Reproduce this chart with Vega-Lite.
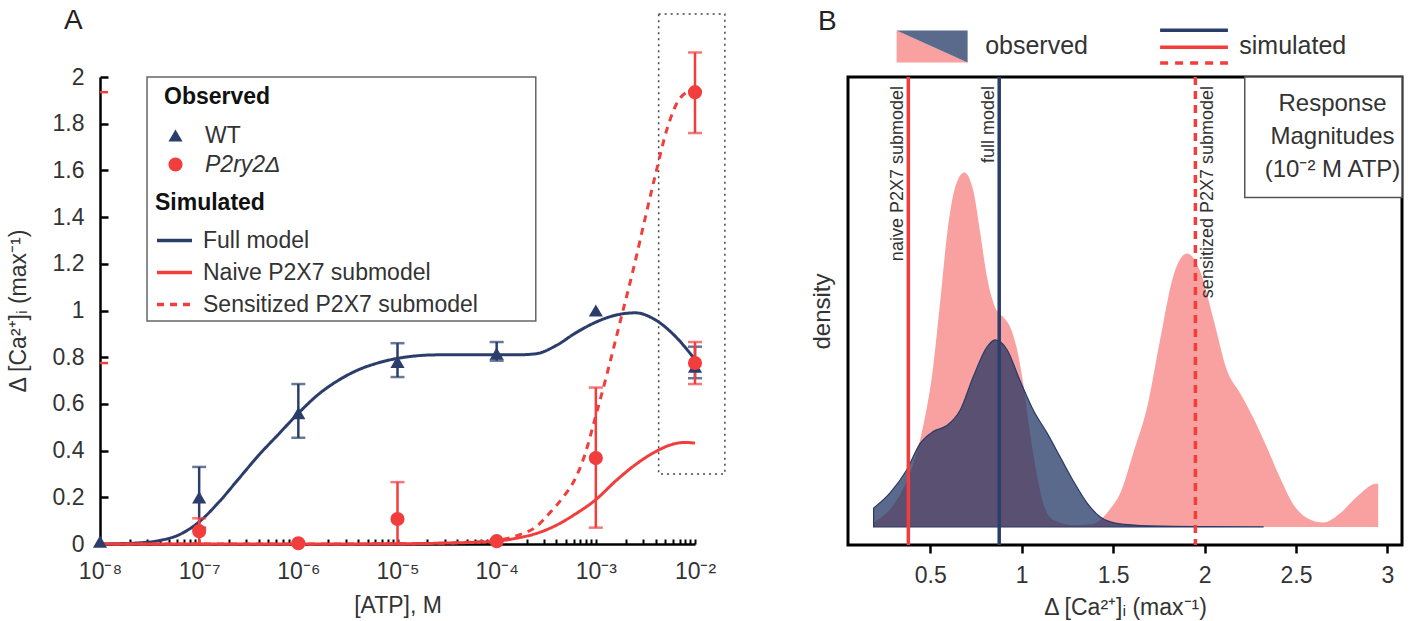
{
  "$schema": "https://vega.github.io/schema/vega-lite/v6.json",
  "background": "white",
  "padding": {"left": 7, "top": 6, "right": 0, "bottom": 2},
  "bounds": "flush",
  "spacing": 153,
  "resolve": {"scale": {"stroke": "independent", "strokeDash": "independent", "color": "independent", "fill": "independent", "shape": "independent"}},
  "config": {
    "font": "Liberation Sans",
    "axis": {"labelFontSize": 23, "titleFontSize": 23, "labelColor": "#333", "titleColor": "#333", "titleFontWeight": "normal", "domainColor": "black", "tickColor": "black", "domainWidth": 2.5, "tickWidth": 2.5, "grid": false},
    "legend": {"padding": 0, "titleFontSize": 23, "titleFontWeight": "bold", "titleColor": "#111", "labelFontSize": 23, "labelColor": "#333", "labelLimit": 500},
    "title": {"fontSize": 28, "fontWeight": "normal", "anchor": "start", "color": "#222", "frame": "group"}
  },
  "datasets": {
    "obs": [
      {"x": 1e-8, "y": 0.01, "g": "WT"},
      {"x": 1e-7, "y": 0.2, "g": "WT"},
      {"x": 1e-6, "y": 0.56, "g": "WT"},
      {"x": 1e-5, "y": 0.78, "g": "WT"},
      {"x": 1e-4, "y": 0.815, "g": "WT"},
      {"x": 1e-3, "y": 1.0, "g": "WT"},
      {"x": 1e-2, "y": 0.76, "g": "WT"},
      {"x": 1e-7, "y": 0.055, "g": "P2ry2Δ"},
      {"x": 1e-6, "y": 0.003, "g": "P2ry2Δ"},
      {"x": 1e-5, "y": 0.107, "g": "P2ry2Δ"},
      {"x": 1e-4, "y": 0.012, "g": "P2ry2Δ"},
      {"x": 1e-3, "y": 0.368, "g": "P2ry2Δ"},
      {"x": 1e-2, "y": 1.935, "g": "P2ry2Δ"},
      {"x": 1e-2, "y": 0.775, "g": "P2ry2Δ"}
    ],
    "errWT": [
      {"x": 1e-7, "lo": 0.07, "hi": 0.33},
      {"x": 1e-6, "lo": 0.455, "hi": 0.685},
      {"x": 1e-5, "lo": 0.715, "hi": 0.86},
      {"x": 1e-4, "lo": 0.785, "hi": 0.865},
      {"x": 1e-2, "lo": 0.71, "hi": 0.845}
    ],
    "errP2": [
      {"x": 1e-7, "lo": 0.0, "hi": 0.11},
      {"x": 1e-5, "lo": 0.0, "hi": 0.265},
      {"x": 1e-3, "lo": 0.07, "hi": 0.67},
      {"x": 1e-2, "lo": 1.76, "hi": 2.105},
      {"x": 1e-2, "lo": 0.685, "hi": 0.865}
    ],
    "sim": [
      {"x": 1e-8, "y": 0, "model": "Full model"},
      {"x": 2.512e-8, "y": 0.005, "model": "Full model"},
      {"x": 3.981e-8, "y": 0.015, "model": "Full model"},
      {"x": 6.31e-8, "y": 0.04, "model": "Full model"},
      {"x": 1e-7, "y": 0.095, "model": "Full model"},
      {"x": 1.585e-7, "y": 0.18, "model": "Full model"},
      {"x": 2.512e-7, "y": 0.28, "model": "Full model"},
      {"x": 3.981e-7, "y": 0.38, "model": "Full model"},
      {"x": 6.31e-7, "y": 0.47, "model": "Full model"},
      {"x": 1e-6, "y": 0.56, "model": "Full model"},
      {"x": 1.585e-6, "y": 0.64, "model": "Full model"},
      {"x": 2.512e-6, "y": 0.7, "model": "Full model"},
      {"x": 3.981e-6, "y": 0.745, "model": "Full model"},
      {"x": 6.31e-6, "y": 0.775, "model": "Full model"},
      {"x": 1e-5, "y": 0.795, "model": "Full model"},
      {"x": 2.512e-5, "y": 0.81, "model": "Full model"},
      {"x": 6.31e-5, "y": 0.81, "model": "Full model"},
      {"x": 1.585e-4, "y": 0.81, "model": "Full model"},
      {"x": 2.512e-4, "y": 0.815, "model": "Full model"},
      {"x": 3.981e-4, "y": 0.85, "model": "Full model"},
      {"x": 6.31e-4, "y": 0.905, "model": "Full model"},
      {"x": 1e-3, "y": 0.95, "model": "Full model"},
      {"x": 1.585e-3, "y": 0.98, "model": "Full model"},
      {"x": 2.512e-3, "y": 0.99, "model": "Full model"},
      {"x": 3.981e-3, "y": 0.96, "model": "Full model"},
      {"x": 6.31e-3, "y": 0.89, "model": "Full model"},
      {"x": 1e-2, "y": 0.79, "model": "Full model"},
      {"x": 1e-8, "y": 0, "model": "Naive P2X7 submodel"},
      {"x": 1e-6, "y": 0, "model": "Naive P2X7 submodel"},
      {"x": 1e-5, "y": 0.001, "model": "Naive P2X7 submodel"},
      {"x": 3.162e-5, "y": 0.004, "model": "Naive P2X7 submodel"},
      {"x": 1e-4, "y": 0.012, "model": "Naive P2X7 submodel"},
      {"x": 1.585e-4, "y": 0.025, "model": "Naive P2X7 submodel"},
      {"x": 2.512e-4, "y": 0.045, "model": "Naive P2X7 submodel"},
      {"x": 3.981e-4, "y": 0.08, "model": "Naive P2X7 submodel"},
      {"x": 6.31e-4, "y": 0.13, "model": "Naive P2X7 submodel"},
      {"x": 1e-3, "y": 0.19, "model": "Naive P2X7 submodel"},
      {"x": 1.585e-3, "y": 0.27, "model": "Naive P2X7 submodel"},
      {"x": 2.512e-3, "y": 0.34, "model": "Naive P2X7 submodel"},
      {"x": 3.981e-3, "y": 0.395, "model": "Naive P2X7 submodel"},
      {"x": 6.31e-3, "y": 0.43, "model": "Naive P2X7 submodel"},
      {"x": 7.943e-3, "y": 0.435, "model": "Naive P2X7 submodel"},
      {"x": 1e-2, "y": 0.432, "model": "Naive P2X7 submodel"},
      {"x": 1e-8, "y": 0, "model": "Sensitized P2X7 submodel"},
      {"x": 1e-6, "y": 0, "model": "Sensitized P2X7 submodel"},
      {"x": 1e-5, "y": 0.001, "model": "Sensitized P2X7 submodel"},
      {"x": 3.162e-5, "y": 0.004, "model": "Sensitized P2X7 submodel"},
      {"x": 1e-4, "y": 0.015, "model": "Sensitized P2X7 submodel"},
      {"x": 1.585e-4, "y": 0.035, "model": "Sensitized P2X7 submodel"},
      {"x": 2.512e-4, "y": 0.075, "model": "Sensitized P2X7 submodel"},
      {"x": 3.548e-4, "y": 0.14, "model": "Sensitized P2X7 submodel"},
      {"x": 4.677e-4, "y": 0.2, "model": "Sensitized P2X7 submodel"},
      {"x": 6.026e-4, "y": 0.27, "model": "Sensitized P2X7 submodel"},
      {"x": 7.586e-4, "y": 0.37, "model": "Sensitized P2X7 submodel"},
      {"x": 1e-3, "y": 0.55, "model": "Sensitized P2X7 submodel"},
      {"x": 1.318e-3, "y": 0.74, "model": "Sensitized P2X7 submodel"},
      {"x": 1.778e-3, "y": 0.96, "model": "Sensitized P2X7 submodel"},
      {"x": 2.399e-3, "y": 1.18, "model": "Sensitized P2X7 submodel"},
      {"x": 3.162e-3, "y": 1.4, "model": "Sensitized P2X7 submodel"},
      {"x": 3.981e-3, "y": 1.58, "model": "Sensitized P2X7 submodel"},
      {"x": 5.248e-3, "y": 1.78, "model": "Sensitized P2X7 submodel"},
      {"x": 7.079e-3, "y": 1.91, "model": "Sensitized P2X7 submodel"},
      {"x": 1e-2, "y": 1.95, "model": "Sensitized P2X7 submodel"}
    ],
    "axisMarks": [{"y": 1.935}, {"y": 0.775}],
    "pink": [
      {"x": 0.19, "d": 0.05}, {"x": 0.3, "d": 0.25}, {"x": 0.38, "d": 0.55}, {"x": 0.46, "d": 1.11},
      {"x": 0.516, "d": 1.78}, {"x": 0.555, "d": 2.52}, {"x": 0.593, "d": 3.27}, {"x": 0.637, "d": 3.78},
      {"x": 0.686, "d": 3.94}, {"x": 0.735, "d": 3.74}, {"x": 0.773, "d": 3.27}, {"x": 0.81, "d": 2.78},
      {"x": 0.855, "d": 2.44}, {"x": 0.9, "d": 2.33}, {"x": 0.937, "d": 2.22}, {"x": 0.975, "d": 1.97},
      {"x": 1.008, "d": 1.6}, {"x": 1.046, "d": 1.04}, {"x": 1.085, "d": 0.56}, {"x": 1.117, "d": 0.27},
      {"x": 1.172, "d": 0.08}, {"x": 1.28, "d": 0.02}, {"x": 1.38, "d": 0.03}, {"x": 1.48, "d": 0.19},
      {"x": 1.54, "d": 0.38}, {"x": 1.61, "d": 0.82}, {"x": 1.686, "d": 1.33}, {"x": 1.757, "d": 2.08},
      {"x": 1.828, "d": 2.78}, {"x": 1.904, "d": 3.04}, {"x": 1.98, "d": 2.82}, {"x": 2.05, "d": 2.3},
      {"x": 2.123, "d": 1.74}, {"x": 2.194, "d": 1.49}, {"x": 2.265, "d": 1.22}, {"x": 2.34, "d": 0.89},
      {"x": 2.41, "d": 0.56}, {"x": 2.48, "d": 0.27}, {"x": 2.56, "d": 0.1}, {"x": 2.65, "d": 0.05},
      {"x": 2.74, "d": 0.15}, {"x": 2.83, "d": 0.33}, {"x": 2.94, "d": 0.48}, {"x": 2.95, "d": 0.48}
    ],
    "navy": [
      {"x": 0.19, "d": 0.21}, {"x": 0.28, "d": 0.38}, {"x": 0.37, "d": 0.63}, {"x": 0.445, "d": 0.93},
      {"x": 0.516, "d": 1.06}, {"x": 0.593, "d": 1.13}, {"x": 0.664, "d": 1.3}, {"x": 0.735, "d": 1.67},
      {"x": 0.81, "d": 2.0}, {"x": 0.855, "d": 2.08}, {"x": 0.92, "d": 1.97}, {"x": 0.99, "d": 1.63},
      {"x": 1.063, "d": 1.3}, {"x": 1.14, "d": 1.04}, {"x": 1.21, "d": 0.78}, {"x": 1.28, "d": 0.52},
      {"x": 1.36, "d": 0.26}, {"x": 1.43, "d": 0.11}, {"x": 1.52, "d": 0.04}, {"x": 1.7, "d": 0.012},
      {"x": 2.0, "d": 0.004}, {"x": 2.32, "d": 0.002}
    ],
    "simB": [
      {"model": "naive P2X7 submodel", "v": 0.38},
      {"model": "full model", "v": 0.877},
      {"model": "sensitized P2X7 submodel", "v": 1.95}
    ],
    "one": [{"k": 1}]
  },
  "hconcat": [
    {
      "width": 595,
      "height": 467,
      "view": {"stroke": null},
      "title": {"text": "A", "dx": -36, "offset": -22},
      "layer": [
        {
          "data": {"name": "one"},
          "mark": {"type": "rect", "fill": "white", "stroke": "#666", "strokeWidth": 1.5},
          "encoding": {
            "x": {"datum": 2.98e-8, "type": "quantitative"},
            "x2": {"datum": 2.48e-4},
            "y": {"datum": 2.0, "type": "quantitative"},
            "y2": {"datum": 0.955}
          }
        },
        {
          "data": {"name": "one"},
          "mark": {"type": "rect", "fill": null, "fillOpacity": 0, "stroke": "#444", "strokeWidth": 1.5, "strokeDash": [2, 4]},
          "encoding": {
            "x": {"datum": 4.3e-3, "type": "quantitative"},
            "x2": {"datum": 2.0e-2},
            "y": {"datum": 2.27, "type": "quantitative"},
            "y2": {"datum": 0.3}
          }
        },
        {
          "data": {"name": "sim"},
          "mark": {"type": "line", "interpolate": "monotone", "strokeWidth": 3},
          "encoding": {
            "x": {
              "field": "x", "type": "quantitative", "title": "[ATP], M",
              "scale": {"type": "log", "domain": [1e-8, 1e-2], "nice": false},
              "axis": {
                "values": [1e-8, 2e-8, 3e-8, 4e-8, 5e-8, 6e-8, 7e-8, 8e-8, 9e-8,
                           1e-7, 2e-7, 3e-7, 4e-7, 5e-7, 6e-7, 7e-7, 8e-7, 9e-7,
                           1e-6, 2e-6, 3e-6, 4e-6, 5e-6, 6e-6, 7e-6, 8e-6, 9e-6,
                           1e-5, 2e-5, 3e-5, 4e-5, 5e-5, 6e-5, 7e-5, 8e-5, 9e-5,
                           1e-4, 2e-4, 3e-4, 4e-4, 5e-4, 6e-4, 7e-4, 8e-4, 9e-4,
                           1e-3, 2e-3, 3e-3, 4e-3, 5e-3, 6e-3, 7e-3, 8e-3, 9e-3, 1e-2],
                "labelExpr": "abs(log(datum.value)/LN10 - round(log(datum.value)/LN10)) < 1e-6 ? '10' + ['⁻⁸','⁻⁷','⁻⁶','⁻⁵','⁻⁴','⁻³','⁻²'][round(log(datum.value)/LN10) + 8] : ''",
                "labelOverlap": false,
                "labelFlush": false,
                "tickSize": -5,
                "tickWidth": 2,
                "labelPadding": 21,
                "titlePadding": 11
              }
            },
            "y": {
              "field": "y", "type": "quantitative", "title": "Δ [Ca²⁺]ᵢ (max⁻¹)",
              "scale": {"domain": [0, 2], "nice": false},
              "axis": {"values": [0, 0.2, 0.4, 0.6, 0.8, 1, 1.2, 1.4, 1.6, 1.8, 2], "format": "~g", "tickSize": -8, "labelPadding": 24, "titlePadding": 22}
            },
            "stroke": {
              "field": "model", "type": "nominal",
              "scale": {"domain": ["Full model", "Naive P2X7 submodel", "Sensitized P2X7 submodel"], "range": ["#2B3E6B", "#F23D3D", "#F23D3D"]},
              "legend": {"title": "Simulated", "orient": "none", "legendX": 55, "legendY": 115, "symbolType": "stroke", "symbolSize": 1225, "symbolStrokeWidth": 3.5, "labelOffset": 9, "rowPadding": -4, "titlePadding": 6}
            },
            "strokeDash": {
              "field": "model", "type": "nominal",
              "scale": {"domain": ["Full model", "Naive P2X7 submodel", "Sensitized P2X7 submodel"], "range": [[1, 0], [1, 0], [7, 6]]},
              "legend": {"title": "Simulated", "orient": "none", "legendX": 55, "legendY": 115, "symbolType": "stroke", "symbolSize": 1225, "symbolStrokeWidth": 3.5, "labelOffset": 9, "rowPadding": -4, "titlePadding": 6}
            }
          }
        },
        {
          "data": {"name": "errWT"},
          "mark": {"type": "errorbar", "ticks": {"size": 14}, "thickness": 2.5, "color": "#2B3E6B"},
          "encoding": {
            "x": {"field": "x", "type": "quantitative", "title": "[ATP], M"},
            "y": {"field": "lo", "type": "quantitative", "title": "Δ [Ca²⁺]ᵢ (max⁻¹)"},
            "y2": {"field": "hi"}
          }
        },
        {
          "data": {"name": "errP2"},
          "mark": {"type": "errorbar", "ticks": {"size": 14}, "thickness": 2.5, "color": "#F23D3D"},
          "encoding": {
            "x": {"field": "x", "type": "quantitative", "title": "[ATP], M"},
            "y": {"field": "lo", "type": "quantitative", "title": "Δ [Ca²⁺]ᵢ (max⁻¹)"},
            "y2": {"field": "hi"}
          }
        },
        {
          "data": {"name": "obs"},
          "mark": {"type": "point", "filled": true, "opacity": 1, "size": 200, "strokeWidth": 0},
          "encoding": {
            "x": {"field": "x", "type": "quantitative", "title": "[ATP], M"},
            "y": {"field": "y", "type": "quantitative", "title": "Δ [Ca²⁺]ᵢ (max⁻¹)"},
            "fill": {
              "field": "g", "type": "nominal",
              "scale": {"domain": ["WT", "P2ry2Δ"], "range": ["#2B3E6B", "#F23D3D"]},
              "legend": {"title": "Observed", "orient": "none", "legendX": 64, "legendY": 9, "labelOffset": 18, "rowPadding": 5, "titlePadding": 15, "symbolSize": 200, "symbolStrokeWidth": 0,
                         "labelFontStyle": {"expr": "datum.label === 'P2ry2Δ' ? 'italic' : 'normal'"}}
            },
            "shape": {
              "field": "g", "type": "nominal",
              "scale": {"domain": ["WT", "P2ry2Δ"], "range": ["triangle-up", "circle"]},
              "legend": {"title": "Observed", "orient": "none", "legendX": 64, "legendY": 9, "labelOffset": 18, "rowPadding": 5, "titlePadding": 15, "symbolSize": 200, "symbolStrokeWidth": 0,
                         "labelFontStyle": {"expr": "datum.label === 'P2ry2Δ' ? 'italic' : 'normal'"}}
            }
          }
        },
        {
          "data": {"name": "axisMarks"},
          "mark": {"type": "rule", "color": "#F23D3D", "strokeWidth": 2.5},
          "encoding": {
            "x": {"datum": 1e-8, "type": "quantitative"},
            "x2": {"datum": 1.205e-8},
            "y": {"field": "y", "type": "quantitative", "title": "Δ [Ca²⁺]ᵢ (max⁻¹)"}
          }
        }
      ]
    },
    {
      "width": 554,
      "height": 468,
      "view": {"stroke": "black", "strokeWidth": 3},
      "title": {"text": "B", "dx": -30, "offset": -8},
      "layer": [
        {
          "data": {"name": "pink"},
          "mark": {"type": "area", "interpolate": "monotone", "color": "#F9A0A0"},
          "encoding": {
            "x": {
              "field": "x", "type": "quantitative", "title": "Δ [Ca²⁺]ᵢ (max⁻¹)",
              "scale": {"domain": [0.05, 3.08], "nice": false, "zero": false},
              "axis": {"values": [0.5, 1, 1.5, 2, 2.5, 3], "format": "~g", "domain": false, "tickSize": 8, "labelPadding": 11, "titlePadding": 9}
            },
            "y": {
              "field": "d", "type": "quantitative", "title": "density",
              "scale": {"domain": [-0.2, 5], "nice": false, "zero": false},
              "axis": {"labels": false, "ticks": false, "domain": false, "titleFontSize": 24, "titlePadding": 14}
            },
            "y2": {"datum": 0}
          }
        },
        {
          "data": {"name": "navy"},
          "mark": {"type": "area", "interpolate": "monotone", "fill": "#1D3361", "fillOpacity": 0.73, "stroke": "#2A3A66", "strokeWidth": 1.2},
          "encoding": {
            "x": {"field": "x", "type": "quantitative", "title": "Δ [Ca²⁺]ᵢ (max⁻¹)"},
            "y": {"field": "d", "type": "quantitative", "title": "density"},
            "y2": {"datum": 0}
          }
        },
        {
          "data": {"name": "simB"},
          "mark": {"type": "rule", "strokeWidth": 3.5},
          "encoding": {
            "x": {"field": "v", "type": "quantitative", "title": "Δ [Ca²⁺]ᵢ (max⁻¹)"},
            "color": {"field": "model", "type": "nominal", "legend": null,
                      "scale": {"domain": ["naive P2X7 submodel", "full model", "sensitized P2X7 submodel"], "range": ["#F23D3D", "#2B3E6B", "#F23D3D"]}},
            "strokeDash": {"field": "model", "type": "nominal", "legend": null,
                           "scale": {"domain": ["naive P2X7 submodel", "full model", "sensitized P2X7 submodel"], "range": [[1, 0], [1, 0], [8, 6]]}}
          }
        },
        {
          "data": {"name": "simB"},
          "transform": [{"filter": "datum.model !== 'sensitized P2X7 submodel'"}],
          "mark": {"type": "text", "angle": 270, "align": "right", "baseline": "alphabetic", "dy": -5, "fontSize": 18, "color": "#333"},
          "encoding": {
            "x": {"field": "v", "type": "quantitative"},
            "y": {"datum": 4.9, "type": "quantitative"},
            "text": {"field": "model"}
          }
        },
        {
          "data": {"name": "simB"},
          "transform": [{"filter": "datum.model === 'sensitized P2X7 submodel'"}],
          "mark": {"type": "text", "angle": 270, "align": "right", "baseline": "top", "dy": 4, "fontSize": 18, "color": "#333"},
          "encoding": {
            "x": {"field": "v", "type": "quantitative"},
            "y": {"datum": 4.9, "type": "quantitative"},
            "text": {"field": "model"}
          }
        },
        {
          "data": {"name": "one"},
          "mark": {"type": "rect", "fill": "white", "stroke": "#555", "strokeWidth": 1.5},
          "encoding": {
            "x": {"datum": 2.22, "type": "quantitative"},
            "x2": {"datum": 3.08},
            "y": {"datum": 3.66, "type": "quantitative"},
            "y2": {"datum": 5.0}
          }
        },
        {
          "data": {"name": "one"},
          "mark": {"type": "text", "text": ["Response", "Magnitudes", "(10⁻² M ATP)"], "align": "center", "baseline": "middle", "lineHeight": 33, "fontSize": 24, "color": "#333"},
          "encoding": {
            "x": {"datum": 2.7, "type": "quantitative"},
            "y": {"datum": 4.7, "type": "quantitative"}
          }
        },
        {
          "data": {"name": "one"},
          "mark": {"type": "point", "shape": "M-1,-0.45L1,0.45L-1,0.45Z", "size": 5041, "filled": true, "fill": "#F9A0A0", "opacity": 1, "strokeWidth": 0},
          "encoding": {
            "x": {"datum": 0.51, "type": "quantitative"},
            "y": {"datum": 5.34, "type": "quantitative"}
          }
        },
        {
          "data": {"name": "one"},
          "mark": {"type": "point", "shape": "M-1,-0.45L1,-0.45L1,0.45Z", "size": 5041, "filled": true, "fill": "#1D3361", "opacity": 0.73, "strokeWidth": 0},
          "encoding": {
            "x": {"datum": 0.51, "type": "quantitative"},
            "y": {"datum": 5.34, "type": "quantitative"}
          }
        },
        {
          "data": {"name": "one"},
          "mark": {"type": "text", "text": "observed", "align": "left", "baseline": "middle", "fontSize": 25, "color": "#333"},
          "encoding": {
            "x": {"datum": 0.8, "type": "quantitative"},
            "y": {"datum": 5.34, "type": "quantitative"}
          }
        },
        {
          "data": {"name": "one"},
          "mark": {"type": "rule", "color": "#2B3E6B", "strokeWidth": 3.5},
          "encoding": {
            "x": {"datum": 1.757, "type": "quantitative"},
            "x2": {"datum": 2.128},
            "y": {"datum": 5.52, "type": "quantitative"}
          }
        },
        {
          "data": {"name": "one"},
          "mark": {"type": "rule", "color": "#F23D3D", "strokeWidth": 3.5},
          "encoding": {
            "x": {"datum": 1.757, "type": "quantitative"},
            "x2": {"datum": 2.128},
            "y": {"datum": 5.33, "type": "quantitative"}
          }
        },
        {
          "data": {"name": "one"},
          "mark": {"type": "rule", "color": "#F23D3D", "strokeWidth": 3.5, "strokeDash": [8, 7]},
          "encoding": {
            "x": {"datum": 1.757, "type": "quantitative"},
            "x2": {"datum": 2.128},
            "y": {"datum": 5.156, "type": "quantitative"}
          }
        },
        {
          "data": {"name": "one"},
          "mark": {"type": "text", "text": "simulated", "align": "left", "baseline": "middle", "fontSize": 25, "color": "#333"},
          "encoding": {
            "x": {"datum": 2.19, "type": "quantitative"},
            "y": {"datum": 5.34, "type": "quantitative"}
          }
        }
      ]
    }
  ]
}
